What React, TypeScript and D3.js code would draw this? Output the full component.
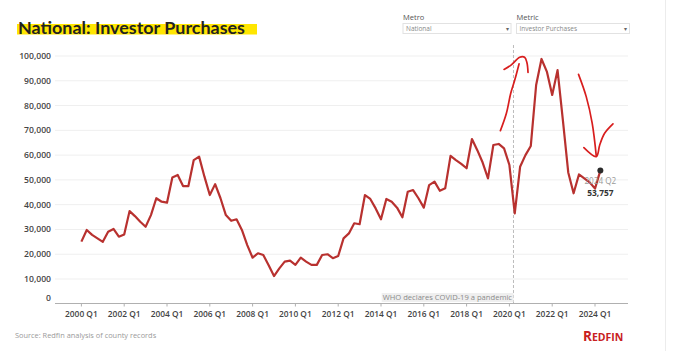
import * as d3 from 'd3';

// quarterly investor purchases, 2000 Q1 .. 2024 Q2 (thousands)
const startYear = 2000;
const purchases = [
  25.1, 29.8, 27.8, 26.4, 25.0, 29.1, 30.2, 27.1,
  28.0, 37.4, 35.4, 33.1, 31.1, 35.8, 42.6, 41.2,
  40.8, 51.0, 52.0, 47.5, 47.5, 58.0, 59.4, 51.3,
  43.9, 48.3, 42.6, 35.8, 33.5, 34.1, 29.8, 23.7,
  18.6, 20.4, 19.7, 15.6, 11.2, 14.3, 17.0, 17.4,
  15.7, 18.6, 17.0, 15.7, 15.7, 19.7, 20.0, 18.4,
  19.3, 26.4, 28.4, 32.5, 32.1, 43.9, 42.3, 38.5,
  34.1, 42.3, 41.2, 38.8, 34.9, 45.2, 45.9, 42.6,
  38.8, 47.9, 49.3, 45.6, 46.6, 59.7, 58.0, 56.5,
  54.7, 66.5, 62.0, 57.0, 50.6, 64.1, 64.5, 62.7,
  56.0, 36.5, 55.3, 60.0, 63.7, 88.3, 98.8, 93.7,
  84.3, 94.3, 74.0, 53.0, 44.6, 52.2, 50.6, 49.0,
  46.5, 53.757,
];
const yTicks = [0, 10000, 20000, 30000, 40000, 50000, 60000, 70000, 80000, 90000, 100000];
const xTickYears = [2000, 2002, 2004, 2006, 2008, 2010, 2012, 2014, 2016, 2018, 2020, 2022, 2024];
const covidDate = 2020 + 70 / 366;

// hand-drawn red marker strokes, in [year, thousands]
const scribbles: [number, number][][] = [
  [[2019.58, 69.9], [2019.86, 76.9], [2020.06, 84.9], [2020.25, 90.3], [2020.45, 96.8]],
  [[2019.75, 94.6], [2020.09, 96.4], [2020.48, 99.5], [2020.71, 99.5], [2020.82, 97.3], [2020.87, 93.4]],
  [[2023.23, 92.6], [2023.59, 83.6], [2023.87, 72.8], [2024.06, 59.6]],
  [[2023.48, 63.0], [2024.06, 59.4], [2024.22, 64.1], [2024.45, 68.8], [2024.84, 72.6]],
];

const font = '"Open Sans", sans-serif';

export default function App() {
  const x = d3.scaleLinear().domain([2000, 2024]).range([81.4, 595]);
  const y = d3.scaleLinear().domain([0, 100000]).range([303.8, 56]);

  const data = purchases.map((v, i) => ({ t: startYear + i / 4, v: v * 1000, i }));
  const last = data[data.length - 1];

  const line = d3.line<{ t: number; v: number }>()
    .x(d => x(d.t))
    .y(d => y(d.v));

  const scribble = d3.line<[number, number]>()
    .x(d => x(d[0]))
    .y(d => y(d[1] * 1000))
    .curve(d3.curveCatmullRom);

  const qLabel = (i: number) => `${startYear + Math.floor(i / 4)} Q${(i % 4) + 1}`;

  return (
    <svg width={680} height={351} style={{ position: 'absolute', left: 0, top: 0, background: '#fff' }}>
      {/* title */}
      <rect x={17} y={24} width={240} height={10.5} fill="#ffe600" />
      <text x={18} y={34} fontFamily="Lato, sans-serif" fontWeight={700} fontSize={17} fill="#222"
        textLength={227} lengthAdjust="spacingAndGlyphs">National: Investor Purchases</text>

      {/* filters */}
      <text x={403} y={20} fontFamily={font} fontSize={7.5} fill="#555">Metro</text>
      <rect x={403} y={23.5} width={108} height={10} fill="#fff" stroke="#e2e2e2" />
      <text x={406} y={31} fontFamily={font} fontSize={6.5} fill="#888">National</text>
      <text x={507} y={31} fontFamily={font} fontSize={6} fill="#666" textAnchor="middle">▾</text>
      <text x={516.5} y={20} fontFamily={font} fontSize={7.5} fill="#555">Metric</text>
      <rect x={516.5} y={23.5} width={113} height={10} fill="#fff" stroke="#e2e2e2" />
      <text x={519.5} y={31} fontFamily={font} fontSize={6.5} fill="#888">Investor Purchases</text>
      <text x={625} y={31} fontFamily={font} fontSize={6} fill="#666" textAnchor="middle">▾</text>

      {/* grid + y labels */}
      {yTicks.map(t => (
        <g key={t}>
          {t > 0 && <line x1={55} x2={628} y1={y(t)} y2={y(t)} stroke="#efefef" strokeWidth={1} />}
          <text x={51} y={t === 0 ? y(t) - 6 : y(t)} dy="0.35em" textAnchor="end" fontFamily={font}
            fontWeight={600} fontSize={8.6} fill="#444">{d3.format(',')(t)}</text>
        </g>
      ))}

      {/* covid marker */}
      <line x1={x(covidDate)} x2={x(covidDate)} y1={45} y2={303} stroke="#bdbdbd" strokeDasharray="3,2" />
      <rect x={381.7} y={293} width={x(covidDate) - 381.7} height={9} fill="#efefef" />
      <text x={x(covidDate) - 1.5} y={300.3} textAnchor="end" fontFamily={font} fontSize={7.6} fill="#8a8a8a">
        WHO declares COVID-19 a pandemic
      </text>

      {/* x axis */}
      <line x1={55} x2={628} y1={303.5} y2={303.5} stroke="#b0b0b0" />
      {xTickYears.map(yr => (
        <g key={yr}>
          <line x1={x(yr)} x2={x(yr)} y1={303.5} y2={306.5} stroke="#b0b0b0" />
          <text x={x(yr)} y={316.5} textAnchor="middle" fontFamily={font} fontWeight={600} fontSize={8.4} fill="#444">
            {`${yr} Q1`}
          </text>
        </g>
      ))}

      {/* series */}
      <path d={line(data) ?? ''} fill="none" stroke="#b8312f" strokeWidth={2.2} strokeLinejoin="round" />
      <circle cx={x(last.t)} cy={y(last.v)} r={3} fill="#2b2b2b" />
      <text x={x(last.t)} y={183.5} textAnchor="middle" fontFamily={font} fontSize={8.2} fill="#9a9a9a">
        {qLabel(last.i)}
      </text>
      <text x={x(last.t)} y={195.5} textAnchor="middle" fontFamily={font} fontWeight={700} fontSize={8.4} fill="#333">
        {d3.format(',')(Math.round(last.v))}
      </text>

      {/* marker scribbles */}
      {scribbles.map((s, i) => (
        <path key={i} d={scribble(s) ?? ''} fill="none" stroke="#d81e1e" strokeWidth={1.7} strokeLinecap="round" />
      ))}

      {/* footer */}
      <text x={15} y={338} fontFamily={font} fontSize={7.4} fill="#9a9a9a">Source: Redfin analysis of county records</text>
      <text x={583} y={340.5} fontFamily={font} fontWeight={700} fill="#c82021">
        <tspan fontSize={13.5}>R</tspan>
        <tspan fontSize={10.5}>EDFIN</tspan>
      </text>
      <line x1={665.5} x2={665.5} y1={0} y2={351} stroke="#ececec" />
    </svg>
  );
}
